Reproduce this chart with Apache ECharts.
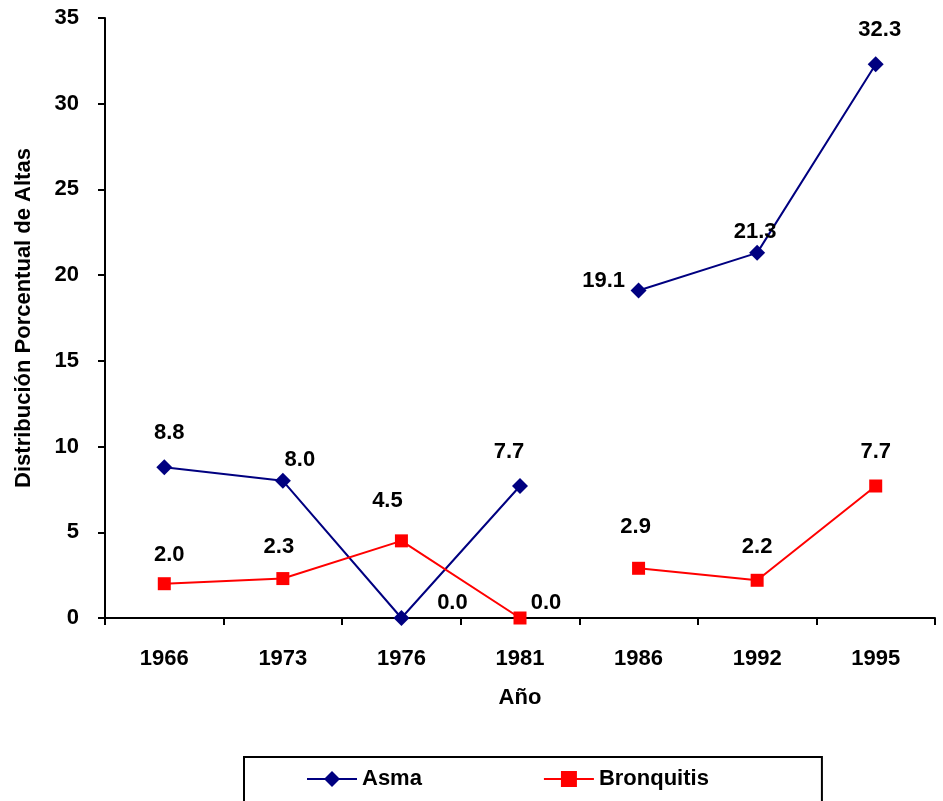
<!DOCTYPE html>
<html lang="es">
<head>
    <meta charset="UTF-8">
    <title>Distribución Porcentual de Altas</title>
    <script src="https://cdn.jsdelivr.net/npm/echarts@6/dist/echarts.min.js"></script>
    <style>
        html, body { margin: 0; padding: 0; background: #fff; }
        #charts { width: 943px; height: 801px; }
    </style>
</head>
<body>
<div id="charts"></div>
<script>
    var years = ['1966', '1973', '1976', '1981', '1986', '1992', '1995'];
    var asma = [8.8, 8.0, 0.0, 7.7, 19.1, 21.3, 32.3];
    var bronquitis = [2.0, 2.3, 4.5, 0.0, 2.9, 2.2, 7.7];
    // the line breaks between 1981 and 1986
    var breakAt = 4;
    var yTicks = { min: 0, max: 35, interval: 5 };

    // where each value label sits, relative to its marker
    var asmaLabelOff = [[5,-34],[17,-21],[51,-15],[-11,-34],[-35,-10],[-2,-21],[4,-34]];
    var bronqLabelOff = [[5,-29],[-4,-32],[-14,-40],[26,-15],[-3,-41],[0,-33],[0,-34]];

    var font = '"Liberation Sans", Arial, sans-serif';
    var fs = 22;

    function part(values, offs, from, to) {
        return values.map(function (v, i) {
            if (i < from || i >= to) return null;
            return { value: v, label: { offset: offs[i] } };
        });
    }

    function makeSeries(name, values, offs, color, symbol, size) {
        var base = {
            name: name,
            type: 'line',
            symbol: symbol,
            symbolSize: size,
            connectNulls: false,
            itemStyle: { color: color },
            lineStyle: { color: color, width: 2 },
            label: {
                show: true,
                position: 'inside',
                color: '#000',
                fontFamily: font,
                fontWeight: 'bold',
                fontSize: fs,
                formatter: function (p) { return Number(p.value).toFixed(1); }
            },
            animation: false
        };
        var a = Object.assign({}, base, { data: part(values, offs, 0, breakAt) });
        var b = Object.assign({}, base, { data: part(values, offs, breakAt, values.length) });
        return [a, b];
    }

    var myChart = echarts.init(document.getElementById('charts'));
    var option = {
        backgroundColor: '#fff',
        grid: { left: 105, right: 8, top: 18, bottom: 183, containLabel: false },
        legend: {
            left: 244,
            top: 757,
            data: ['Asma', 'Bronquitis'],
            itemWidth: 50,
            itemHeight: 20,
            itemGap: 121,
            padding: [11, 113, 30, 62],
            borderColor: '#000',
            borderWidth: 2,
            textStyle: { color: '#000', fontFamily: font, fontWeight: 'bold', fontSize: fs }
        },
        xAxis: {
            type: 'category',
            data: years,
            boundaryGap: true,
            name: 'Año',
            nameLocation: 'middle',
            nameGap: 69,
            nameTextStyle: { color: '#000', fontFamily: font, fontWeight: 'bold', fontSize: fs },
            axisLine: { lineStyle: { color: '#000', width: 2 } },
            axisTick: { show: true, length: 7, lineStyle: { color: '#000', width: 2 } },
            axisLabel: { color: '#000', fontFamily: font, fontWeight: 'bold', fontSize: fs, margin: 30 },
            splitLine: { show: false }
        },
        yAxis: {
            type: 'value',
            min: yTicks.min,
            max: yTicks.max,
            interval: yTicks.interval,
            name: 'Distribución Porcentual de Altas',
            nameLocation: 'middle',
            nameGap: 70,
            nameTextStyle: { color: '#000', fontFamily: font, fontWeight: 'bold', fontSize: fs },
            axisLine: { show: true, lineStyle: { color: '#000', width: 2 } },
            axisTick: { show: true, length: 7, lineStyle: { color: '#000', width: 2 } },
            axisLabel: { color: '#000', fontFamily: font, fontWeight: 'bold', fontSize: fs, margin: 26 },
            splitLine: { show: false }
        },
        series: [].concat(
            makeSeries('Asma', asma, asmaLabelOff, '#000080', 'diamond', 16),
            makeSeries('Bronquitis', bronquitis, bronqLabelOff, '#FF0000', 'rect', 13)
        )
    };
    myChart.setOption(option, true);
</script>
</body>
</html>
